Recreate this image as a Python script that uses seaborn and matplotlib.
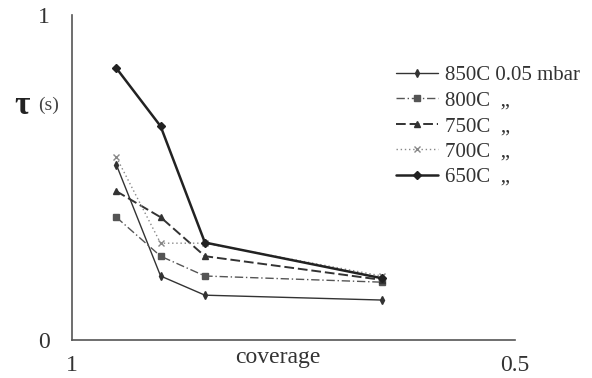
import matplotlib
matplotlib.use("Agg")
import matplotlib.pyplot as plt
import seaborn as sns
import pandas as pd

coverage = [0.95, 0.90, 0.85, 0.65]
series = ["850C 0.05 mbar", "800C  \u201e", "750C  \u201e", "700C  \u201e", "650C  \u201e"]
tau_850 = [0.54, 0.197, 0.138, 0.123]
tau_800 = [0.378, 0.258, 0.197, 0.178]
tau_750 = [0.458, 0.378, 0.258, 0.185]
tau_700 = [0.563, 0.298, 0.298, 0.197]
tau_650 = [0.837, 0.658, 0.30, 0.19]

sns.set_style("white")
plt.rcParams['font.family'] = ['Liberation Serif', 'DejaVu Serif']

fig = plt.figure(figsize=(5.92, 3.78), dpi=100)
ax = fig.add_axes([0.1216, 0.1005, 0.7484, 0.8595])

colors = ["#333333", "#555555", "#333333", "#888888", "#222222"]
markers = ["d", "s", "^", "x", "D"]
styles = ["-", (0, (6, 2, 1, 2)), (0, (5, 2)), (0, (1, 2)), "-"]
widths = [1.0, 1.0, 1.4, 1.0, 1.8]
msizes = [4, 5, 5, 4, 4.5]

for name, vals, c, m, ls, lw, ms in zip(series, [tau_850, tau_800, tau_750, tau_700, tau_650],
                                        colors, markers, styles, widths, msizes):
    d = pd.DataFrame({"coverage": coverage, "tau": vals})
    sns.lineplot(data=d, x="coverage", y="tau", color=c, marker=m, linestyle=ls,
                 linewidth=lw, markersize=ms, markeredgewidth=1.0, markeredgecolor=c,
                 ax=ax, label=name, sort=False)

ax.set_xlim(1.0, 0.5)
ax.set_ylim(0, 1)
ax.set_xticks([1.0, 0.9, 0.8, 0.7, 0.6, 0.5])
ax.set_xticklabels(["1", "", "", "", "", "0.5"])
ax.set_yticks([i / 10 for i in range(11)])
ax.set_yticklabels(["0"] + [""] * 9 + ["1"])
for s in ["top", "right"]:
    ax.spines[s].set_visible(False)
for s in ["left", "bottom"]:
    ax.spines[s].set_color("#555555")
    ax.spines[s].set_linewidth(1.2)
ax.tick_params(axis="both", direction="out", length=4, width=1, color="#555555",
               labelsize=17, labelcolor="#333333")
ax.tick_params(axis="x", direction="inout", length=6, pad=8)
ax.tick_params(axis="y", pad=12)
ax.set_xlabel("coverage", fontsize=17, color="#333333")
ax.xaxis.set_label_coords(0.465, -0.055)
ax.xaxis.label.set_verticalalignment("center")
ax.set_ylabel("")
fig.text(0.025, 0.72, "\u03c4", fontsize=24, fontweight="bold", color="#222222", va="center")
fig.text(0.064, 0.72, "(s)", fontsize=14, color="#444444", va="center")

ax.legend(loc="upper left", bbox_to_anchor=(0.713, 0.87), frameon=False,
          fontsize=15, handlelength=2.0, labelspacing=0.28, handletextpad=0.35,
          borderaxespad=0)
for t in ax.get_legend().get_texts():
    t.set_color("#333333")

fig.savefig("out.png", dpi=100, facecolor="white")
